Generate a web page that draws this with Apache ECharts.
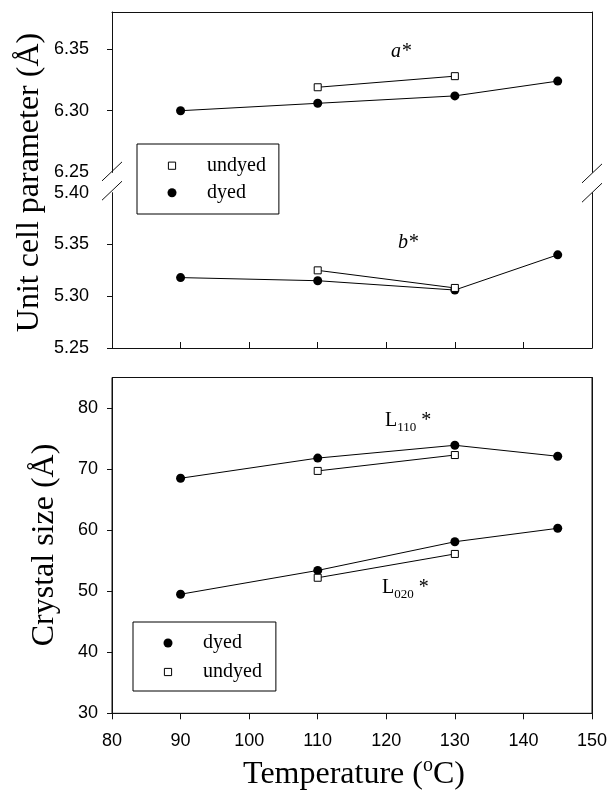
<!DOCTYPE html>
<html><head><meta charset="utf-8">
<script src="https://cdn.jsdelivr.net/npm/echarts@6/dist/echarts.min.js"></script>
<style>html,body{margin:0;padding:0;background:#fff}#c{width:612px;height:803px}</style>
</head><body><div id="c"></div>
<script>
// ---- data ----
const tempsDyed = [90, 110, 130, 145];
const tempsUndyed = [110, 130];
const aDyed = [6.300, 6.306, 6.312, 6.324];
const aUndyed = [6.319, 6.328];
const bDyed = [5.318, 5.315, 5.306, 5.340];
const bUndyed = [5.325, 5.308];
const l110Dyed = [68.5, 71.8, 73.9, 72.1];
const l110Undyed = [69.7, 72.3];
const l020Dyed = [49.5, 53.4, 58.1, 60.3];
const l020Undyed = [52.2, 56.1];
const aTickLabels = [6.25, 6.30, 6.35];
const aTicks = [6.30, 6.35];
const bTickLabels = [5.25, 5.30, 5.35, 5.40];
const bTicks = [5.25, 5.30, 5.35];
const sizeTicks = [30, 40, 50, 60, 70, 80];

const ink = '#111';
const serif = 'Liberation Serif';
const sans = 'Liberation Sans';
const pair = (xs, ys) => xs.map((x, i) => [x, ys[i]]);

const chart = echarts.init(document.getElementById('c'), null, {renderer: 'canvas'});

const xBase = () => ({
  type: 'value', min: 80, max: 150, interval: 10,
  splitLine: {show: false},
  axisLine: {show: true, onZero: false, lineStyle: {color: ink, width: 1}},
  axisTick: {show: false}, axisLabel: {show: false}
});
const yLineOnly = (g, mn, mx) => ({
  type: 'value', gridIndex: g, position: 'right', min: mn, max: mx,
  splitLine: {show: false}, axisTick: {show: false}, axisLabel: {show: false},
  axisLine: {show: true, onZero: false, lineStyle: {color: ink, width: 1}}
});
const yMain = (g, mn, mx, ticks, labels, margin, digits) => ({
  type: 'value', gridIndex: g, min: mn, max: mx,
  splitLine: {show: false},
  axisLine: {show: true, onZero: false, lineStyle: {color: ink, width: 1}},
  axisTick: {show: true, inside: false, length: 5, lineStyle: {color: ink}, customValues: ticks},
  axisLabel: {show: true, margin: margin, color: '#000', fontFamily: sans, fontSize: 18,
    customValues: labels, formatter: v => Number(v).toFixed(digits)}
});

const dyedStyle = {
  type: 'line', name: 'dyed', symbol: 'circle', symbolSize: 9,
  itemStyle: {color: '#000'}, lineStyle: {color: '#000', width: 1}, z: 3,
  animation: false
};
const undyedStyle = {
  type: 'line', name: 'undyed', symbol: 'rect', symbolSize: 7,
  itemStyle: {color: '#fff', borderColor: '#000', borderWidth: 1},
  lineStyle: {color: '#000', width: 1}, z: 4, animation: false
};

const legendItems = {
  dyed: {name: 'dyed', icon: 'circle', itemStyle: {color: '#000', borderWidth: 0}},
  undyed: {name: 'undyed', itemStyle: {color: '#fff', borderColor: '#000', borderWidth: 1}}
};
const legendBase = {
  orient: 'vertical', itemWidth: 60, itemHeight: 9,
  borderColor: '#000', borderWidth: 1, backgroundColor: '#fff',
  lineStyle: {width: 0}, selectedMode: false,
  textStyle: {fontFamily: serif, fontSize: 20, color: '#000'}
};

const option = {
  animation: false,
  backgroundColor: '#fff',
  grid: [
    {left: 112, right: 20, top: 12, height: 160.4, outerBoundsMode: 'none'},
    {left: 112, right: 20, top: 192.7, height: 155.3, outerBoundsMode: 'none'},
    {left: 112, right: 20, top: 377.5, height: 335.8, outerBoundsMode: 'none',
     show: true, borderColor: ink, borderWidth: 1, backgroundColor: 'transparent'}
  ],
  xAxis: [
    Object.assign(xBase(), {gridIndex: 0, position: 'top'}),
    Object.assign(xBase(), {gridIndex: 1, position: 'bottom',
      axisTick: {show: true, inside: true, length: 6, lineStyle: {color: ink}}}),
    Object.assign(xBase(), {gridIndex: 2, position: 'bottom',
      axisTick: {show: true, inside: false, length: 6, lineStyle: {color: ink}},
      axisLabel: {show: true, margin: 19, color: '#000', fontFamily: sans, fontSize: 18}})
  ],
  yAxis: [
    yMain(0, 6.25, 6.38, aTicks, aTickLabels, 23, 2),
    yLineOnly(0, 6.25, 6.38),
    yMain(1, 5.25, 5.40, bTicks, bTickLabels, 23, 2),
    yLineOnly(1, 5.25, 5.40),
    yMain(2, 30, 85, sizeTicks, sizeTicks, 14, 0),
    yLineOnly(2, 30, 85)
  ],
  legend: [
    Object.assign({}, legendBase, {data: [legendItems.undyed, legendItems.dyed],
      left: 137, top: 144, padding: [11.7, 13, 11.3, 5], itemGap: 7}),
    Object.assign({}, legendBase, {data: [legendItems.dyed, legendItems.undyed],
      left: 133, top: 622, padding: [11, 14, 9, 5], itemGap: 9})
  ],
  series: [
    Object.assign({}, dyedStyle, {xAxisIndex: 0, yAxisIndex: 0, data: pair(tempsDyed, aDyed)}),
    Object.assign({}, undyedStyle, {xAxisIndex: 0, yAxisIndex: 0, data: pair(tempsUndyed, aUndyed)}),
    Object.assign({}, dyedStyle, {xAxisIndex: 1, yAxisIndex: 2, data: pair(tempsDyed, bDyed)}),
    Object.assign({}, undyedStyle, {xAxisIndex: 1, yAxisIndex: 2, data: pair(tempsUndyed, bUndyed)}),
    Object.assign({}, dyedStyle, {xAxisIndex: 2, yAxisIndex: 4, data: pair(tempsDyed, l110Dyed)}),
    Object.assign({}, undyedStyle, {xAxisIndex: 2, yAxisIndex: 4, data: pair(tempsUndyed, l110Undyed)}),
    Object.assign({}, dyedStyle, {xAxisIndex: 2, yAxisIndex: 4, data: pair(tempsDyed, l020Dyed)}),
    Object.assign({}, undyedStyle, {xAxisIndex: 2, yAxisIndex: 4, data: pair(tempsUndyed, l020Undyed)})
  ]
};
chart.setOption(option);

// ---- decorations: axis breaks, annotations, axis titles ----
const bl0 = chart.convertToPixel({xAxisIndex: 0, yAxisIndex: 0}, [80, 6.25]);
const br0 = chart.convertToPixel({xAxisIndex: 0, yAxisIndex: 0}, [150, 6.25]);
const tl1 = chart.convertToPixel({xAxisIndex: 1, yAxisIndex: 2}, [80, 5.40]);
const slash = (cx, cy) => ({
  type: 'line', silent: true,
  shape: {x1: cx - 10, y1: cy + 9.5, x2: cx + 10, y2: cy - 9.5},
  style: {stroke: ink, lineWidth: 1}
});
const txt = (x, y, text, extra) => ({
  type: 'text', x: x, y: y, silent: true,
  style: Object.assign({text: text, fill: '#000', fontFamily: serif}, extra)
});

chart.setOption({
  graphic: [
    slash(bl0[0], bl0[1] - 1), slash(tl1[0], tl1[1] - 2),
    slash(br0[0], bl0[1] + 1), slash(br0[0], tl1[1]),
    txt(401, 52, 'a*', {fontSize: 20, fontStyle: 'italic', align: 'center', verticalAlign: 'middle'}),
    txt(408, 243, 'b*', {fontSize: 20, fontStyle: 'italic', align: 'center', verticalAlign: 'middle'}),
    txt(385, 408, 'L{s|110} *', {fontSize: 20, lineHeight: 26, align: 'left', verticalAlign: 'top',
      rich: {s: {fontFamily: serif, fontSize: 13, lineHeight: 13, verticalAlign: 'bottom'}}}),
    txt(382, 575, 'L{s|020} *', {fontSize: 20, lineHeight: 26, align: 'left', verticalAlign: 'top',
      rich: {s: {fontFamily: serif, fontSize: 13, lineHeight: 13, verticalAlign: 'bottom'}}}),
    txt(354, 775, 'Temperature ({o|o}C)', {fontSize: 32, lineHeight: 38, align: 'center', verticalAlign: 'middle',
      rich: {o: {fontFamily: serif, fontSize: 20, lineHeight: 22, verticalAlign: 'top'}}}),
    Object.assign(txt(30, 182.5, 'Unit cell parameter (Å)', {fontSize: 32, align: 'center', verticalAlign: 'middle'}), {rotation: Math.PI / 2}),
    Object.assign(txt(45, 545, 'Crystal size (Å)', {fontSize: 32, align: 'center', verticalAlign: 'middle'}), {rotation: Math.PI / 2})
  ]
});
</script>
</body></html>
